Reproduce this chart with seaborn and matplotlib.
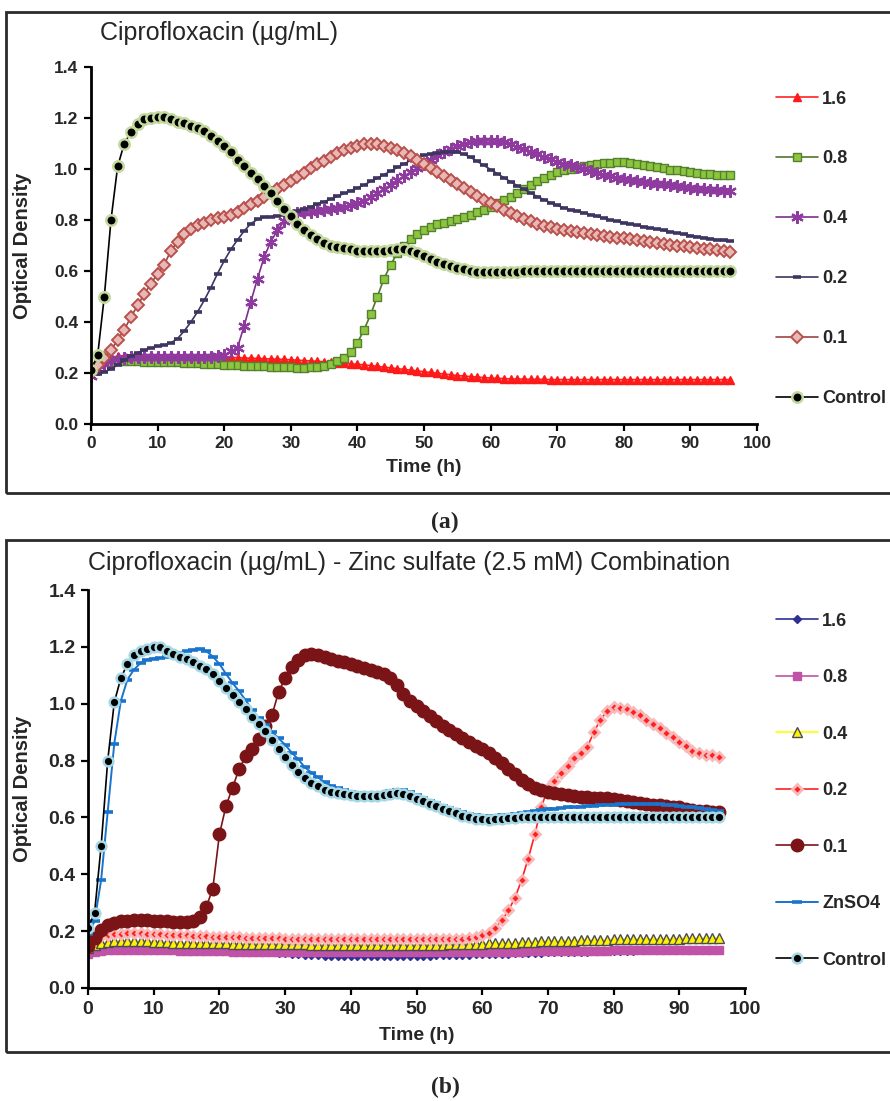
import matplotlib
matplotlib.use("Agg")
import matplotlib.pyplot as plt
from matplotlib.patches import Rectangle
import seaborn as sns

# ---------------------------------------------------------------- data
HOURS = [0, 1, 2, 3, 4, 5, 6, 7, 8, 9,
         10, 11, 12, 13, 14, 15, 16, 17, 18, 19,
         20, 21, 22, 23, 24, 25, 26, 27, 28, 29,
         30, 31, 32, 33, 34, 35, 36, 37, 38, 39,
         40, 41, 42, 43, 44, 45, 46, 47, 48, 49,
         50, 51, 52, 53, 54, 55, 56, 57, 58, 59,
         60, 61, 62, 63, 64, 65, 66, 67, 68, 69,
         70, 71, 72, 73, 74, 75, 76, 77, 78, 79,
         80, 81, 82, 83, 84, 85, 86, 87, 88, 89,
         90, 91, 92, 93, 94, 95, 96]

# Panel (a): ciprofloxacin alone
A_16 = [0.210, 0.240, 0.255, 0.262, 0.265, 0.267, 0.268, 0.268, 0.268, 0.267,
        0.267, 0.266, 0.266, 0.265, 0.265, 0.264, 0.264, 0.263, 0.263, 0.262,
        0.262, 0.261, 0.260, 0.259, 0.258, 0.257, 0.256, 0.255, 0.254, 0.253,
        0.252, 0.250, 0.249, 0.247, 0.246, 0.244, 0.242, 0.240, 0.238, 0.236,
        0.234, 0.232, 0.229, 0.226, 0.223, 0.220, 0.217, 0.214, 0.211, 0.208,
        0.205, 0.202, 0.199, 0.196, 0.193, 0.190, 0.188, 0.186, 0.184, 0.182,
        0.180, 0.179, 0.178, 0.177, 0.176, 0.176, 0.175, 0.175, 0.175, 0.174,
        0.174, 0.174, 0.174, 0.174, 0.174, 0.174, 0.174, 0.174, 0.174, 0.174,
        0.174, 0.174, 0.174, 0.174, 0.174, 0.174, 0.174, 0.174, 0.174, 0.174,
        0.174, 0.174, 0.174, 0.174, 0.174, 0.174, 0.174]
A_08 = [0.210, 0.235, 0.242, 0.245, 0.246, 0.246, 0.246, 0.246, 0.245, 0.245,
        0.244, 0.244, 0.243, 0.242, 0.241, 0.240, 0.238, 0.237, 0.235, 0.234,
        0.232, 0.231, 0.230, 0.229, 0.228, 0.227, 0.226, 0.225, 0.224, 0.223,
        0.222, 0.221, 0.221, 0.222, 0.225, 0.229, 0.236, 0.246, 0.260, 0.283,
        0.318, 0.370, 0.430, 0.500, 0.570, 0.625, 0.670, 0.700, 0.725, 0.745,
        0.760, 0.773, 0.783, 0.790, 0.797, 0.804, 0.812, 0.820, 0.830, 0.840,
        0.852, 0.865, 0.878, 0.892, 0.907, 0.922, 0.937, 0.952, 0.965, 0.977,
        0.987, 0.995, 1.001, 1.006, 1.011, 1.015, 1.019, 1.022, 1.025, 1.027,
        1.027, 1.025, 1.021, 1.016, 1.011, 1.006, 1.002, 0.998, 0.995, 0.991,
        0.988, 0.985, 0.982, 0.980, 0.978, 0.977, 0.976]
A_04 = [0.190, 0.215, 0.235, 0.248, 0.255, 0.260, 0.262, 0.263, 0.263, 0.263,
        0.263, 0.262, 0.262, 0.262, 0.261, 0.261, 0.261, 0.262, 0.264, 0.266,
        0.270, 0.285, 0.300, 0.385, 0.480, 0.570, 0.655, 0.715, 0.760, 0.795,
        0.815, 0.826, 0.830, 0.833, 0.836, 0.840, 0.843, 0.847, 0.852, 0.858,
        0.866, 0.876, 0.890, 0.906, 0.922, 0.938, 0.955, 0.972, 0.988, 1.004,
        1.020, 1.037, 1.053, 1.068, 1.080, 1.090, 1.098, 1.104, 1.108, 1.110,
        1.111, 1.110, 1.105, 1.097, 1.088, 1.078, 1.068, 1.058, 1.048, 1.038,
        1.029, 1.021, 1.014, 1.008, 1.000, 0.993, 0.986, 0.978, 0.971, 0.965,
        0.960, 0.956, 0.953, 0.950, 0.946, 0.943, 0.940, 0.936, 0.932, 0.929,
        0.926, 0.923, 0.920, 0.918, 0.916, 0.915, 0.913]
A_02 = [0.190, 0.195, 0.205, 0.215, 0.232, 0.250, 0.265, 0.278, 0.290, 0.298,
        0.305, 0.310, 0.318, 0.335, 0.365, 0.400, 0.440, 0.485, 0.535, 0.590,
        0.640, 0.685, 0.722, 0.757, 0.786, 0.802, 0.810, 0.813, 0.816, 0.820,
        0.826, 0.834, 0.843, 0.852, 0.862, 0.872, 0.882, 0.893, 0.904, 0.915,
        0.926, 0.938, 0.951, 0.964, 0.978, 0.992, 1.006, 1.020, 1.034, 1.045,
        1.053, 1.059, 1.064, 1.067, 1.068, 1.065, 1.058, 1.046, 1.030, 1.014,
        0.998, 0.982, 0.966, 0.950, 0.935, 0.920, 0.906, 0.892, 0.880, 0.868,
        0.857, 0.848, 0.840, 0.834, 0.828, 0.821, 0.814, 0.807, 0.800, 0.795,
        0.789, 0.784, 0.779, 0.774, 0.769, 0.764, 0.759, 0.754, 0.749, 0.744,
        0.739, 0.735, 0.731, 0.727, 0.723, 0.720, 0.717]
A_01 = [0.200, 0.230, 0.260, 0.290, 0.330, 0.370, 0.420, 0.465, 0.510, 0.550,
        0.590, 0.625, 0.680, 0.715, 0.745, 0.765, 0.780, 0.790, 0.800, 0.806,
        0.812, 0.820, 0.832, 0.846, 0.861, 0.876, 0.891, 0.906, 0.922, 0.938,
        0.954, 0.970, 0.986, 1.002, 1.018, 1.033, 1.048, 1.062, 1.074, 1.084,
        1.092, 1.097, 1.099, 1.097, 1.092, 1.084, 1.074, 1.062, 1.050, 1.036,
        1.021, 1.005, 0.988, 0.972, 0.956, 0.940, 0.924, 0.908, 0.893, 0.879,
        0.866, 0.853, 0.840, 0.828, 0.816, 0.805, 0.795, 0.786, 0.778, 0.771,
        0.765, 0.760, 0.756, 0.752, 0.748, 0.744, 0.740, 0.737, 0.734, 0.731,
        0.728, 0.724, 0.720, 0.716, 0.712, 0.709, 0.706, 0.703, 0.700, 0.697,
        0.694, 0.691, 0.688, 0.685, 0.682, 0.679, 0.676]
A_CTRL = [0.210, 0.270, 0.500, 0.800, 1.010, 1.100, 1.145, 1.175, 1.195, 1.200,
          1.205, 1.205, 1.195, 1.185, 1.180, 1.170, 1.160, 1.150, 1.130, 1.110,
          1.090, 1.065, 1.035, 1.010, 0.985, 0.960, 0.935, 0.905, 0.875, 0.845,
          0.815, 0.785, 0.760, 0.740, 0.725, 0.710, 0.700, 0.695, 0.690, 0.685,
          0.680, 0.680, 0.680, 0.680, 0.680, 0.682, 0.685, 0.685, 0.680, 0.670,
          0.660, 0.648, 0.637, 0.627, 0.618, 0.612, 0.606, 0.601, 0.598, 0.596,
          0.595, 0.595, 0.596, 0.597, 0.598, 0.599, 0.600, 0.600, 0.600, 0.600,
          0.600, 0.600, 0.600, 0.600, 0.600, 0.600, 0.600, 0.600, 0.600, 0.600,
          0.600, 0.600, 0.600, 0.600, 0.600, 0.600, 0.600, 0.600, 0.600, 0.600,
          0.600, 0.600, 0.600, 0.600, 0.600, 0.600, 0.600]

# Panel (b): ciprofloxacin + zinc sulfate (2.5 mM)
B_16 = [0.140, 0.147, 0.151, 0.153, 0.154, 0.154, 0.154, 0.153, 0.152, 0.151,
        0.150, 0.149, 0.148, 0.147, 0.146, 0.145, 0.144, 0.143, 0.141, 0.140,
        0.139, 0.137, 0.135, 0.133, 0.132, 0.131, 0.129, 0.127, 0.125, 0.123,
        0.122, 0.120, 0.118, 0.117, 0.116, 0.115, 0.114, 0.113, 0.112, 0.112,
        0.111, 0.111, 0.111, 0.111, 0.111, 0.111, 0.112, 0.112, 0.112, 0.113,
        0.113, 0.114, 0.114, 0.115, 0.115, 0.116, 0.116, 0.117, 0.117, 0.118,
        0.118, 0.119, 0.120, 0.120, 0.121, 0.122, 0.122, 0.123, 0.124, 0.124,
        0.125, 0.125, 0.126, 0.127, 0.127, 0.128, 0.128, 0.129, 0.129, 0.130,
        0.130, 0.130, 0.131, 0.131, 0.132, 0.132, 0.132, 0.133, 0.133, 0.133,
        0.134, 0.134, 0.134, 0.135, 0.135, 0.135, 0.135]
B_08 = [0.120, 0.127, 0.131, 0.133, 0.134, 0.134, 0.134, 0.134, 0.133, 0.133,
        0.133, 0.132, 0.132, 0.132, 0.131, 0.131, 0.131, 0.130, 0.130, 0.129,
        0.129, 0.129, 0.128, 0.128, 0.128, 0.128, 0.127, 0.127, 0.127, 0.127,
        0.127, 0.127, 0.126, 0.126, 0.126, 0.126, 0.126, 0.126, 0.126, 0.126,
        0.126, 0.126, 0.126, 0.126, 0.126, 0.126, 0.126, 0.126, 0.126, 0.126,
        0.126, 0.126, 0.126, 0.126, 0.126, 0.126, 0.126, 0.126, 0.126, 0.126,
        0.127, 0.127, 0.127, 0.128, 0.128, 0.128, 0.128, 0.129, 0.129, 0.129,
        0.129, 0.130, 0.130, 0.130, 0.130, 0.131, 0.131, 0.131, 0.131, 0.131,
        0.132, 0.132, 0.132, 0.132, 0.133, 0.133, 0.133, 0.133, 0.133, 0.134,
        0.134, 0.134, 0.134, 0.135, 0.135, 0.135, 0.135]
B_04 = [0.140, 0.150, 0.158, 0.162, 0.164, 0.165, 0.165, 0.165, 0.164, 0.164,
        0.163, 0.162, 0.161, 0.160, 0.160, 0.159, 0.159, 0.158, 0.158, 0.157,
        0.157, 0.157, 0.156, 0.156, 0.156, 0.155, 0.155, 0.155, 0.155, 0.154,
        0.154, 0.154, 0.154, 0.154, 0.153, 0.153, 0.153, 0.153, 0.153, 0.153,
        0.153, 0.152, 0.152, 0.152, 0.152, 0.152, 0.152, 0.152, 0.152, 0.152,
        0.152, 0.152, 0.153, 0.153, 0.153, 0.154, 0.154, 0.155, 0.155, 0.156,
        0.156, 0.157, 0.158, 0.159, 0.159, 0.160, 0.161, 0.162, 0.163, 0.164,
        0.165, 0.165, 0.166, 0.167, 0.167, 0.168, 0.168, 0.169, 0.169, 0.170,
        0.171, 0.171, 0.171, 0.172, 0.172, 0.173, 0.173, 0.173, 0.174, 0.174,
        0.174, 0.175, 0.175, 0.175, 0.176, 0.176, 0.176]
B_02 = [0.153, 0.171, 0.182, 0.186, 0.189, 0.191, 0.192, 0.192, 0.192, 0.191,
        0.190, 0.189, 0.188, 0.187, 0.186, 0.185, 0.184, 0.183, 0.182, 0.181,
        0.180, 0.179, 0.178, 0.178, 0.177, 0.177, 0.176, 0.176, 0.175, 0.175,
        0.174, 0.174, 0.174, 0.173, 0.173, 0.173, 0.172, 0.172, 0.172, 0.172,
        0.171, 0.171, 0.171, 0.171, 0.171, 0.171, 0.171, 0.171, 0.171, 0.171,
        0.171, 0.171, 0.171, 0.171, 0.171, 0.171, 0.172, 0.174, 0.177, 0.181,
        0.187, 0.195, 0.212, 0.238, 0.273, 0.318, 0.380, 0.455, 0.540, 0.635,
        0.705, 0.727, 0.755, 0.782, 0.810, 0.828, 0.848, 0.900, 0.944, 0.973,
        0.987, 0.984, 0.980, 0.972, 0.960, 0.943, 0.928, 0.914, 0.898, 0.882,
        0.866, 0.850, 0.835, 0.826, 0.821, 0.820, 0.812]
B_01 = [0.147, 0.176, 0.205, 0.220, 0.228, 0.234, 0.237, 0.238, 0.238, 0.238,
        0.237, 0.236, 0.234, 0.232, 0.231, 0.232, 0.237, 0.250, 0.285, 0.350,
        0.540, 0.640, 0.705, 0.770, 0.815, 0.840, 0.875, 0.920, 0.960, 1.040,
        1.090, 1.128, 1.155, 1.170, 1.176, 1.172, 1.165, 1.158, 1.152, 1.145,
        1.140, 1.134, 1.127, 1.120, 1.113, 1.105, 1.090, 1.065, 1.035, 1.010,
        0.993, 0.975, 0.958, 0.940, 0.922, 0.907, 0.893, 0.880, 0.866, 0.853,
        0.840, 0.825, 0.808, 0.790, 0.771, 0.752, 0.733, 0.717, 0.704, 0.695,
        0.689, 0.685, 0.682, 0.679, 0.676, 0.673, 0.671, 0.669, 0.668, 0.667,
        0.665, 0.661, 0.657, 0.653, 0.650, 0.647, 0.645, 0.642, 0.640, 0.638,
        0.635, 0.631, 0.627, 0.624, 0.622, 0.620, 0.620]
B_ZN = [0.190, 0.235, 0.380, 0.620, 0.860, 1.010, 1.085, 1.120, 1.143, 1.155,
        1.159, 1.160, 1.165, 1.172, 1.178, 1.185, 1.190, 1.192, 1.185, 1.166,
        1.140, 1.105, 1.073, 1.044, 1.012, 0.978, 0.950, 0.926, 0.902, 0.878,
        0.856, 0.828, 0.805, 0.776, 0.758, 0.741, 0.724, 0.712, 0.703, 0.695,
        0.690, 0.686, 0.684, 0.683, 0.684, 0.687, 0.692, 0.698, 0.698, 0.688,
        0.678, 0.668, 0.658, 0.649, 0.640, 0.632, 0.625, 0.619, 0.613, 0.608,
        0.605, 0.604, 0.605, 0.607, 0.610, 0.613, 0.616, 0.620, 0.624, 0.627,
        0.629, 0.631, 0.633, 0.635, 0.636, 0.638, 0.639, 0.641, 0.642, 0.644,
        0.645, 0.646, 0.646, 0.647, 0.647, 0.647, 0.646, 0.646, 0.645, 0.643,
        0.641, 0.638, 0.635, 0.632, 0.629, 0.626, 0.624]
B_CTRL = [0.210, 0.265, 0.500, 0.800, 1.005, 1.090, 1.140, 1.170, 1.186, 1.194,
          1.198, 1.200, 1.185, 1.175, 1.166, 1.156, 1.145, 1.133, 1.121, 1.104,
          1.080, 1.057, 1.031, 1.005, 0.980, 0.953, 0.929, 0.905, 0.873, 0.842,
          0.812, 0.784, 0.760, 0.738, 0.722, 0.709, 0.698, 0.690, 0.685, 0.681,
          0.678, 0.677, 0.676, 0.675, 0.676, 0.678, 0.682, 0.686, 0.684, 0.675,
          0.666, 0.657, 0.648, 0.640, 0.631, 0.622, 0.614, 0.606, 0.600, 0.596,
          0.593, 0.592, 0.593, 0.595, 0.597, 0.599, 0.600, 0.600, 0.600, 0.600,
          0.600, 0.600, 0.600, 0.600, 0.600, 0.600, 0.600, 0.600, 0.600, 0.600,
          0.600, 0.600, 0.600, 0.600, 0.600, 0.600, 0.600, 0.600, 0.600, 0.600,
          0.600, 0.600, 0.600, 0.600, 0.600, 0.600, 0.600]

LABELS_A = ["1.6", "0.8", "0.4", "0.2", "0.1", "Control"]
LABELS_B = ["1.6", "0.8", "0.4", "0.2", "0.1", "ZnSO4", "Control"]
Y_TICKS = [0.0, 0.2, 0.4, 0.6, 0.8, 1.0, 1.2, 1.4]
X_TICKS = [0, 10, 20, 30, 40, 50, 60, 70, 80, 90, 100]
TITLE_A = "Ciprofloxacin (µg/mL)"
TITLE_B = "Ciprofloxacin (µg/mL) - Zinc sulfate (2.5 mM) Combination"

# ---------------------------------------------------------------- styles
STYLE_A = [
    dict(color="#FF2222", marker="^", markersize=6, markerfacecolor="#FF1A1A",
         markeredgecolor="#FF1A1A", markeredgewidth=1.0, linewidth=1.2),
    dict(color="#52762B", marker="s", markersize=6, markerfacecolor="#8CC63F",
         markeredgecolor="#55802E", markeredgewidth=1.0, linewidth=1.2),
    dict(color="#7E2D8F", marker=(6, 2, 0), markersize=9, markerfacecolor="#8E3A9E",
         markeredgecolor="#8E3A9E", markeredgewidth=1.6, linewidth=1.2),
    dict(color="#3E3560", marker="_", markersize=6, markerfacecolor="#3E3560",
         markeredgecolor="#3E3560", markeredgewidth=2.6, linewidth=1.2),
    dict(color="#A0433F", marker="D", markersize=6.5, markerfacecolor="#E8B8B6",
         markeredgecolor="#B9504B", markeredgewidth=1.4, linewidth=1.2),
    dict(color="#000000", marker="o", markersize=7.5, markerfacecolor="#000000",
         markeredgecolor="#C4D99E", markeredgewidth=1.8, linewidth=1.2),
]
STYLE_B = [
    dict(color="#2E3192", marker="D", markersize=4.5, markerfacecolor="#2E3192",
         markeredgecolor="#2E3192", markeredgewidth=1.0, linewidth=1.2),
    dict(color="#C052A8", marker="s", markersize=5.5, markerfacecolor="#C052A8",
         markeredgecolor="#C052A8", markeredgewidth=1.0, linewidth=1.2),
    dict(color="#FFFF00", marker="^", markersize=7, markerfacecolor="#FFF200",
         markeredgecolor="#4A4A5A", markeredgewidth=1.0, linewidth=1.2),
    dict(color="#FF2020", marker="D", markersize=5, markerfacecolor="#FF2020",
         markeredgecolor="#F7B9B9", markeredgewidth=2.0, linewidth=1.2),
    dict(color="#7B1416", marker="o", markersize=9, markerfacecolor="#7B1416",
         markeredgecolor="#7B1416", markeredgewidth=1.0, linewidth=1.2),
    dict(color="#1874CD", marker="_", markersize=7, markerfacecolor="#1874CD",
         markeredgecolor="#1874CD", markeredgewidth=2.6, linewidth=1.4),
    dict(color="#000000", marker="o", markersize=7, markerfacecolor="#000000",
         markeredgecolor="#A6D8E6", markeredgewidth=1.8, linewidth=1.2),
]

# ---------------------------------------------------------------- fonts
sns.set_style("ticks")
SANS = "Liberation Sans"
SERIF = "Liberation Serif"
plt.rcParams["font.family"] = [SANS, "DejaVu Sans"]

W, H = 890, 1101
fig = plt.figure(figsize=(W / 100, H / 100), dpi=100)
fig.patch.set_facecolor("white")


def fx(px):
    return px / W


def fy(py):
    return 1 - py / H


# panel frames
for top, bottom in [(12, 493), (540, 1052)]:
    fig.patches.append(Rectangle((fx(6), fy(bottom)), 1.0, (bottom - top) / H,
                                 transform=fig.transFigure, fill=False,
                                 edgecolor="#2A2A2A", linewidth=2.0, zorder=0))


def make_panel(rect, series, labels, styles, title, title_y, tick_size,
               leg_top, leg_spacing, xlab_top):
    left, top, right, bottom = rect
    ax = fig.add_axes([fx(left), fy(bottom), (right - left) / W, (bottom - top) / H])
    for vals, lab, st in zip(series, labels, styles):
        sns.lineplot(x=HOURS, y=vals, ax=ax, label=lab, legend=False,
                     errorbar=None, **st)
    ax.set_xlim(0, 100)
    ax.set_ylim(0, 1.4)
    ax.set_xticks(X_TICKS)
    ax.set_yticks(Y_TICKS)
    ax.set_xticklabels([str(t) for t in X_TICKS])
    ax.set_yticklabels([f"{t:.1f}" for t in Y_TICKS])
    for lab in ax.get_xticklabels() + ax.get_yticklabels():
        lab.set_fontweight("bold")
        lab.set_fontsize(tick_size)
    sns.despine(ax=ax)
    for sp in ("left", "bottom"):
        ax.spines[sp].set_linewidth(2.0)
        ax.spines[sp].set_color("black")
    ax.tick_params(axis="both", direction="out", length=5, width=1.6,
                   color="black", pad=4)
    ax.set_xlabel("Time (h)", fontweight="bold", fontsize=14)
    ax.xaxis.set_label_coords(0.5, (bottom - xlab_top) / (bottom - top))
    ax.set_ylabel("Optical Density", fontweight="bold", fontsize=14.5)
    ax.yaxis.set_label_coords((32 - left) / (right - left), 0.5)
    ax.grid(False)
    ax.set_facecolor("white")

    ax.legend(loc="upper left", bbox_to_anchor=(fx(776), fy(leg_top)),
              bbox_transform=fig.transFigure, frameon=False, borderpad=0,
              borderaxespad=0, handlelength=2.3, handletextpad=0.25,
              labelspacing=leg_spacing,
              prop=dict(family=SANS, weight="bold", size=13))
    fig.text(fx(left + 9 if left > 90 else left), fy(title_y), title,
             ha="left", va="center", fontsize=18)
    return ax


make_panel((91, 67, 757, 424), [A_16, A_08, A_04, A_02, A_01, A_CTRL], LABELS_A,
           STYLE_A, TITLE_A, 33, 12.5, 90.5, 2.38, 459)
make_panel((88, 590, 745, 988), [B_16, B_08, B_04, B_02, B_01, B_ZN, B_CTRL], LABELS_B,
           STYLE_B, TITLE_B, 563, 14, 612.5, 2.19, 1027)

fig.text(fx(445), fy(522), "(a)", ha="center", va="center", fontsize=17,
         fontfamily=SERIF, fontweight="bold")
fig.text(fx(445), fy(1087), "(b)", ha="center", va="center", fontsize=17,
         fontfamily=SERIF, fontweight="bold")

fig.savefig("out.png", dpi=100, facecolor="white")
